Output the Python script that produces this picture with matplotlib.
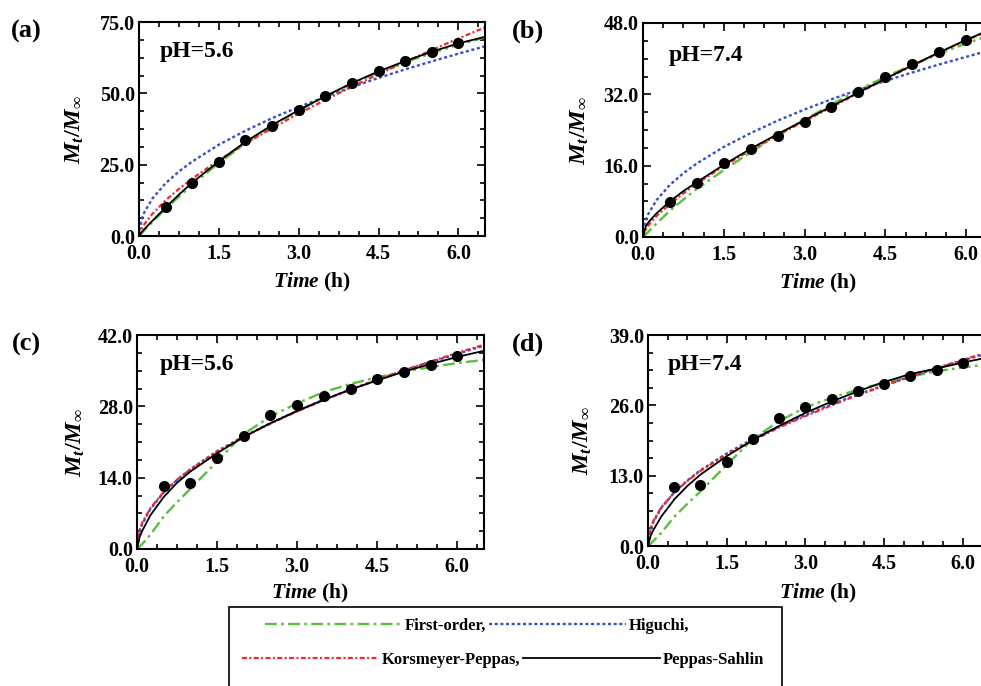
import matplotlib
matplotlib.use('Agg')
import matplotlib.pyplot as plt
from matplotlib.ticker import MultipleLocator, AutoMinorLocator, FormatStrFormatter
from matplotlib.lines import Line2D
from matplotlib.patches import Rectangle

plt.rcParams['font.family'] = ['Liberation Serif', 'DejaVu Serif']
plt.rcParams['font.weight'] = 'bold'
plt.rcParams['mathtext.fontset'] = 'custom'
plt.rcParams['mathtext.it'] = 'Liberation Serif:italic:bold'
plt.rcParams['mathtext.rm'] = 'Liberation Serif:bold'
plt.rcParams['mathtext.bf'] = 'Liberation Serif:bold'

# data
t_exp = [0.5, 1.0, 1.5, 2.0, 2.5, 3.0, 3.5, 4.0, 4.5, 5.0, 5.5, 6.0]
t_fit = [0, 0.05, 0.1, 0.25, 0.5, 0.75, 1.0, 1.5, 2.0, 2.5, 3.0, 3.5, 4.0, 4.5, 5.0, 5.5, 6.0, 6.5]

a_exp = [10.1, 18.6, 26.1, 33.5, 38.7, 44.0, 48.9, 53.7, 58.0, 61.2, 64.5, 67.5]
a_first = [0, 1.0, 2.0, 4.9, 9.5, 13.8, 17.9, 25.6, 32.4, 38.5, 44.0, 48.9, 53.3, 57.4, 60.9, 64.1, 67.0, 69.6]
a_hig = [0, 5.8, 8.3, 13.1, 18.5, 22.6, 26.1, 32.0, 36.9, 41.3, 45.2, 48.8, 52.2, 55.4, 58.4, 61.2, 63.9, 66.5]
a_kp = [0, 2.5, 4.1, 7.7, 12.5, 16.5, 20.1, 26.6, 32.4, 37.8, 42.9, 47.7, 52.3, 56.7, 61.0, 65.2, 69.2, 73.1]
a_ps = [0, 1.3, 2.4, 5.3, 10.0, 14.5, 18.7, 26.2, 33.0, 38.9, 44.1, 49.0, 53.6, 57.7, 61.3, 64.6, 67.5, 69.8]

b_exp = [7.85, 12.2, 16.7, 19.8, 22.7, 25.9, 29.2, 32.5, 35.8, 38.8, 41.5, 44.2]
b_first = [0, 0.6, 1.2, 3.0, 5.9, 8.4, 10.8, 15.0, 19.0, 22.9, 26.3, 29.7, 33.0, 35.9, 38.6, 41.1, 43.4, 45.5]
b_hig = [0, 3.7, 5.2, 8.25, 11.7, 14.3, 16.5, 20.2, 23.3, 26.1, 28.6, 30.9, 33.0, 35.0, 36.9, 38.7, 40.4, 42.1]
b_kp = [0, 1.6, 2.6, 4.7, 7.4, 9.8, 12.0, 15.9, 19.5, 22.8, 26.0, 29.1, 32.3, 35.4, 38.4, 41.4, 44.1, 46.6]
b_ps = [0, 2.3, 3.3, 5.3, 8.0, 10.3, 12.3, 16.2, 19.8, 23.1, 26.2, 29.3, 32.4, 35.5, 38.5, 41.4, 44.2, 46.8]

c_exp = [12.4, 13.0, 17.8, 22.2, 26.3, 28.3, 30.0, 31.4, 33.3, 34.7, 36.2, 37.8]
c_first = [0, 0.5, 1.0, 2.8, 6.4, 9.2, 11.8, 17.2, 22.6, 26.0, 28.6, 30.8, 32.4, 33.7, 34.8, 35.7, 36.5, 37.1]
c_hig = [0, 3.5, 4.95, 7.8, 11.1, 13.55, 15.65, 19.2, 22.1, 24.7, 27.1, 29.3, 31.3, 33.2, 35.0, 36.7, 38.3, 39.9]
c_kp = [0, 3.8, 5.2, 8.0, 11.2, 13.6, 15.6, 19.1, 22.0, 24.6, 27.0, 29.2, 31.3, 33.2, 35.1, 36.8, 38.5, 40.1]
c_ps = [0, 2.4, 3.6, 6.6, 10.2, 13.0, 15.2, 18.8, 22.0, 24.7, 27.1, 29.3, 31.3, 33.1, 34.8, 36.3, 37.7, 38.9]

d_exp = [10.9, 11.3, 15.6, 19.7, 23.6, 25.7, 27.2, 28.6, 29.9, 31.4, 32.6, 33.9]
d_first = [0, 0.4, 0.9, 2.4, 5.4, 7.8, 10.1, 15.0, 19.8, 23.1, 25.6, 27.4, 28.9, 30.2, 31.3, 32.3, 33.0, 33.6]
d_hig = [0, 3.1, 4.4, 7.0, 9.9, 12.1, 14.0, 17.1, 19.8, 22.1, 24.2, 26.2, 28.0, 29.7, 31.3, 32.8, 34.3, 35.7]
d_kp = [0, 3.3, 4.6, 7.1, 9.9, 12.0, 13.9, 16.9, 19.5, 21.9, 24.0, 26.0, 27.9, 29.6, 31.3, 32.9, 34.4, 35.9]
d_ps = [0, 1.9, 2.9, 5.4, 8.6, 11.1, 13.2, 16.6, 19.6, 22.2, 24.6, 26.7, 28.6, 30.3, 31.8, 32.8, 33.9, 34.9]

labels = ['(a)', '(b)', '(c)', '(d)']
ph_text = ['pH=5.6', 'pH=7.4', 'pH=5.6', 'pH=7.4']
y_max = [75.0, 48.0, 42.0, 39.0]

exp_sets = [a_exp, b_exp, c_exp, d_exp]
first_sets = [a_first, b_first, c_first, d_first]
hig_sets = [a_hig, b_hig, c_hig, d_hig]
kp_sets = [a_kp, b_kp, c_kp, d_kp]
ps_sets = [a_ps, b_ps, c_ps, d_ps]

W, H = 981, 686
fig = plt.figure(figsize=(W / 100, H / 100), dpi=100)

# axes boxes in pixels: left, top, right, bottom
boxes = [(139, 22, 485, 236), (643, 23, 993, 237), (137, 335, 484, 549), (648, 335, 989, 546)]
ylab_off = [64, 63, 61, 65]
xlab_off = [46, 46, 44, 47]
ph_pos = [(0.06, 0.86), (0.072, 0.85), (0.066, 0.86), (0.059, 0.858)]
lab_pos = [(26, 31), (528, 31), (26, 344), (528, 344)]

green = '#5BBF3C'
blue = '#3A4FC8'
red = '#F0282D'
st_first = dict(color=green, lw=1.7, ls=(0, (5, 1.8, 1.2, 1.8)))
st_hig = dict(color=blue, lw=1.7, ls=(0, (1.3, 1.1)))
st_kp = dict(color=red, lw=1.6, ls=(0, (2.2, 1.1, 0.9, 1.1)))
st_ps = dict(color='black', lw=1.3, ls='-')

for i in range(4):
    l, t, r, b = boxes[i]
    ax = fig.add_axes([l / W, 1 - b / H, (r - l) / W, (b - t) / H])
    ax.plot(t_fit, first_sets[i], **st_first)
    ax.plot(t_fit, hig_sets[i], **st_hig)
    ax.plot(t_fit, kp_sets[i], **st_kp)
    ax.plot(t_fit, ps_sets[i], **st_ps)
    ax.plot(t_exp, exp_sets[i], 'o', color='black', ms=7, zorder=5)

    ax.set_xlim(0, 6.5)
    ax.set_ylim(0, y_max[i])
    ax.xaxis.set_major_locator(MultipleLocator(1.5))
    ax.xaxis.set_minor_locator(AutoMinorLocator(4))
    ax.yaxis.set_major_locator(MultipleLocator(y_max[i] / 3))
    ax.yaxis.set_minor_locator(AutoMinorLocator(4))
    ax.xaxis.set_major_formatter(FormatStrFormatter('%.1f'))
    ax.yaxis.set_major_formatter(FormatStrFormatter('%.1f'))
    ax.tick_params(which='both', direction='in', top=True, right=True, width=1.2)
    ax.tick_params(which='major', length=6, labelsize=14.5, pad=3)
    ax.tick_params(which='minor', length=3.5)
    ax.tick_params(axis='x', which='major', pad=6)
    for sp in ax.spines.values():
        sp.set_linewidth(1.5)

    ax.set_ylabel(r'$M_t/M_\infty$', fontsize=17.5)
    ax.yaxis.set_label_coords(-ylab_off[i] / (r - l), 0.5)
    ax.yaxis.label.set_va('center')
    ax.set_xlabel(r'$Time$ (h)', fontsize=15.5, fontweight='bold')
    ax.xaxis.label.set_va('center')
    ax.xaxis.set_label_coords(0.5, -xlab_off[i] / (b - t))

    ax.text(ph_pos[i][0], ph_pos[i][1], ph_text[i], transform=ax.transAxes,
            fontsize=17, fontweight='bold', va='center', ha='left')
    fig.text(lab_pos[i][0] / W, 1 - lab_pos[i][1] / H, labels[i],
             fontsize=19, fontweight='bold', ha='center', va='center')

# legend box at the bottom
h_first = Line2D([], [], **st_first)
h_hig = Line2D([], [], **st_hig)
h_kp = Line2D([], [], **st_kp)
h_ps = Line2D([], [], **st_ps)
leg_kw = dict(ncol=2, loc='center', frameon=False, handlelength=8.2,
              handletextpad=0.15, columnspacing=0.2,
              prop={'size': 12, 'weight': 'bold'})
fig.legend([h_first, h_hig], ['First-order,', 'Higuchi,'],
           bbox_to_anchor=(477 / W, 1 - 626 / H), **leg_kw)
fig.legend([h_kp, h_ps], ['Korsmeyer-Peppas,', 'Peppas-Sahlin'],
           bbox_to_anchor=(503 / W, 1 - 660 / H), **leg_kw)
fig.patches.append(Rectangle((229 / W, -0.02), (782 - 229) / W, 0.02 + 1 - 607 / H,
                             transform=fig.transFigure, fill=False,
                             edgecolor='black', lw=1.2))

plt.savefig('out.png', dpi=100)
